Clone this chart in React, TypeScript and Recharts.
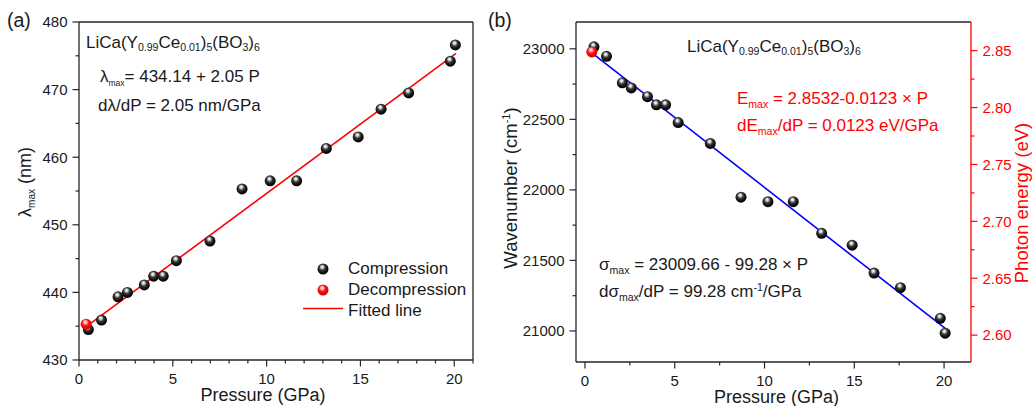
import React from 'react';
import { ScatterChart, Scatter, XAxis, YAxis, ReferenceLine } from 'recharts';

// pressure points (GPa), shared by both panels
const pressure = [0.5, 1.2, 2.08, 2.58, 3.48, 3.98, 4.49, 5.19, 6.98, 8.69, 10.19, 11.6, 13.18, 14.88, 16.1, 17.57, 19.79, 20.06];
// (a) emission maximum, nm
const lambdaMax = [434.5, 435.9, 439.35, 440.0, 441.1, 442.4, 442.4, 444.7, 447.6, 455.3, 456.5, 456.5, 461.3, 463.0, 467.1, 469.5, 474.2, 476.6];
// (b) wavenumber, cm-1
const wavenumber = [23014, 22947, 22759, 22723, 22661, 22603, 22603, 22477, 22329, 21948, 21916, 21916, 21692, 21608, 21410, 21307, 21090, 20984];

const decompPressure = [0.38];
const decompLambda = [435.3];
const decompWavenumber = [22978];

// fitted line end points
const fitPressure = [0.4, 20.1];
const fitLambda = [434.96, 475.35];
const fitWavenumber = [22970, 21014];

const xTicksA = [0, 1, 2, 3, 4, 5, 6, 7, 8, 9, 10, 11, 12, 13, 14, 15, 16, 17, 18, 19, 20, 21];
const yTicksA = [430, 435, 440, 445, 450, 455, 460, 465, 470, 475, 480];
const xTicksB = [0, 2.5, 5, 7.5, 10, 12.5, 15, 17.5, 20];
const yTicksB = [21000, 21250, 21500, 21750, 22000, 22250, 22500, 22750, 23000];
const eTicksB = [2.6, 2.625, 2.65, 2.675, 2.7, 2.725, 2.75, 2.775, 2.8, 2.825, 2.85];

const FONT = '"Liberation Sans", Arial, Helvetica, sans-serif';
const INK = '#1a1a1a';
const AXIS = '#262626';
const RED = '#ff0000';

function makeTick(side: 'bottom' | 'left' | 'right', isMajor: (v: number) => boolean, fmt: (v: number) => string, color: string) {
  return (props: any) => {
    const { x, y, payload } = props;
    const v = payload.value;
    const major = isMajor(v);
    const len = major ? 6.5 : 3.5;
    const txtColor = color === RED ? RED : INK;
    if (side === 'bottom') {
      return (
        <g>
          <line x1={x} x2={x} y1={y} y2={y + len} stroke={color} strokeWidth={1.2} />
          {major && (
            <text x={x} y={y + 24} textAnchor="middle" fontSize={15} fill={txtColor} fontFamily={FONT}>{fmt(v)}</text>
          )}
        </g>
      );
    }
    if (side === 'left') {
      return (
        <g>
          <line x1={x} x2={x - len} y1={y} y2={y} stroke={color} strokeWidth={1.2} />
          {major && (
            <text x={x - len - 5} y={y + 5.3} textAnchor="end" fontSize={15} fill={txtColor} fontFamily={FONT}>{fmt(v)}</text>
          )}
        </g>
      );
    }
    return (
      <g>
        <line x1={x} x2={x + len} y1={y} y2={y} stroke={color} strokeWidth={1.2} />
        {major && (
          <text x={x + len + 5} y={y + 5.3} textAnchor="start" fontSize={15} fill={txtColor} fontFamily={FONT}>{fmt(v)}</text>
        )}
      </g>
    );
  };
}

const BlackBall = (props: any) => <circle cx={props.cx} cy={props.cy} r={5.5} fill="url(#ballBlack)" />;
const RedBall = (props: any) => <circle cx={props.cx} cy={props.cy} r={5.5} fill="url(#ballRed)" />;
const NoDot = () => <g />;

const pressureLabel = (dx: number) => (props: any) => {
  const vb = props.viewBox || { x: 0, y: 0, width: 0, height: 0 };
  return (
    <text x={vb.x + vb.width / 2 + dx} y={vb.y + 41} textAnchor="middle" fontSize={18} fill={INK} fontFamily={FONT}>
      Pressure (GPa)
    </text>
  );
};

const sub = (fs: string, shift: number): React.CSSProperties => ({ fontSize: fs, verticalAlign: `${-shift}px`, lineHeight: 0 });

function Txt({ left, base, size = 17, color = INK, children }: { left: number; base: number; size?: number; color?: string; children: React.ReactNode }) {
  return (
    <div style={{ position: 'absolute', left, top: base - 0.8465 * size, fontSize: size, lineHeight: `${size}px`, whiteSpace: 'nowrap', color, fontFamily: FONT }}>
      {children}
    </div>
  );
}

const Formula = () => (
  <>
    LiCa(Y<span style={sub('0.62em', 3)}>0.99</span>Ce<span style={sub('0.62em', 3)}>0.01</span>)<span style={sub('0.62em', 3)}>5</span>(BO<span style={sub('0.62em', 3)}>3</span>)<span style={sub('0.62em', 3)}>6</span>
  </>
);

export default function App() {
  const compA = pressure.map((p, i) => ({ p, v: lambdaMax[i] }));
  const decA = decompPressure.map((p, i) => ({ p, v: decompLambda[i] }));
  const fitA = fitPressure.map((p, i) => ({ p, v: fitLambda[i] }));
  const compB = pressure.map((p, i) => ({ p, v: wavenumber[i] }));
  const decB = decompPressure.map((p, i) => ({ p, v: decompWavenumber[i] }));
  const fitB = fitPressure.map((p, i) => ({ p, v: fitWavenumber[i] }));

  const axisLine = { stroke: AXIS, strokeWidth: 1.3 };

  return (
    <div style={{ position: 'absolute', left: 0, top: 0, width: 1033, height: 406, background: '#fff', overflow: 'hidden', fontFamily: FONT }}>
      <svg width={0} height={0} style={{ position: 'absolute' }}>
        <defs>
          <radialGradient id="ballBlack" cx="0.45" cy="0.4" r="0.6" fx="0.42" fy="0.3">
            <stop offset="0" stopColor="#ffffff" />
            <stop offset="0.2" stopColor="#cfcfcf" />
            <stop offset="0.45" stopColor="#3a3a3a" />
            <stop offset="0.8" stopColor="#0a0a0a" />
            <stop offset="1" stopColor="#000000" />
          </radialGradient>
          <radialGradient id="ballRed" cx="0.45" cy="0.4" r="0.6" fx="0.42" fy="0.3">
            <stop offset="0" stopColor="#ffffff" />
            <stop offset="0.22" stopColor="#ffb3b3" />
            <stop offset="0.5" stopColor="#ff1010" />
            <stop offset="1" stopColor="#d00000" />
          </radialGradient>
        </defs>
      </svg>

      {/* panel (a) */}
      <div style={{ position: 'absolute', left: 0, top: 0 }}>
        <ScatterChart width={490} height={406} margin={{ top: 22, right: 17, bottom: 0, left: 0 }}>
          <XAxis
            type="number"
            dataKey="p"
            domain={[0, 21]}
            allowDataOverflow
            ticks={xTicksA}
            interval={0}
            height={46}
            tickSize={0}
            tickMargin={0}
            axisLine={axisLine}
            tick={makeTick('bottom', (v) => v % 5 === 0, (v) => String(v), AXIS)}
            label={pressureLabel(-13)}
          />
          <YAxis
            type="number"
            dataKey="v"
            domain={[430, 480]}
            allowDataOverflow
            ticks={yTicksA}
            interval={0}
            width={79}
            tickSize={0}
            tickMargin={0}
            axisLine={axisLine}
            tick={makeTick('left', (v) => v % 10 === 0, (v) => String(v), AXIS)}
            label={() => (
              <text transform="rotate(-90 31 182)" x={31} y={182} textAnchor="middle" fontSize={18} fill={INK} fontFamily={FONT}>
                λ<tspan fontSize={10} dy={4}>max</tspan>
                <tspan dy={-4}> (nm)</tspan>
              </text>
            )}
          />
          <ReferenceLine y={480} stroke={AXIS} strokeWidth={1.3} />
          <ReferenceLine x={21} stroke={AXIS} strokeWidth={1.3} />
          <Scatter data={fitA} line={{ stroke: RED, strokeWidth: 1.6 }} shape={NoDot} isAnimationActive={false} />
          <Scatter data={compA} shape={BlackBall} isAnimationActive={false} />
          <Scatter data={decA} shape={RedBall} isAnimationActive={false} />
        </ScatterChart>
      </div>

      {/* panel (b) */}
      <div style={{ position: 'absolute', left: 490, top: 0 }}>
        <ScatterChart width={543} height={406} margin={{ top: 22, right: 0, bottom: 0, left: 0 }}>
          <XAxis
            type="number"
            dataKey="p"
            domain={[-0.5, 21.5]}
            allowDataOverflow
            ticks={xTicksB}
            interval={0}
            height={44}
            tickSize={0}
            tickMargin={0}
            axisLine={axisLine}
            tick={makeTick('bottom', (v) => v % 5 === 0, (v) => String(v), AXIS)}
            label={pressureLabel(3)}
          />
          <YAxis
            yAxisId="left"
            type="number"
            dataKey="v"
            domain={[20780, 23190]}
            allowDataOverflow
            ticks={yTicksB}
            interval={0}
            width={86}
            tickSize={0}
            tickMargin={0}
            axisLine={axisLine}
            tick={makeTick('left', (v) => v % 500 === 0, (v) => String(v), AXIS)}
            label={() => (
              <text transform="rotate(-90 27 188)" x={27} y={188} textAnchor="middle" fontSize={18.5} fill={INK} fontFamily={FONT}>
                Wavenumber (cm<tspan fontSize={11} dy={-7}>-1</tspan>
                <tspan dy={7}>)</tspan>
              </text>
            )}
          />
          <YAxis
            yAxisId="right"
            orientation="right"
            type="number"
            domain={[2.57639, 2.87519]}
            allowDataOverflow
            ticks={eTicksB}
            interval={0}
            width={62}
            tickSize={0}
            tickMargin={0}
            axisLine={{ stroke: RED, strokeWidth: 1.3 }}
            tick={makeTick('right', (v) => Math.round(v * 1000) % 50 === 0, (v) => v.toFixed(2), RED)}
            label={() => (
              <text transform="rotate(-90 538 203)" x={538} y={203} textAnchor="middle" fontSize={18.5} fill={RED} fontFamily={FONT}>
                Photon energy (eV)
              </text>
            )}
          />
          <ReferenceLine yAxisId="left" y={23190} stroke={AXIS} strokeWidth={1.3} />
          <Scatter yAxisId="left" data={fitB} line={{ stroke: '#0000ff', strokeWidth: 1.6 }} shape={NoDot} isAnimationActive={false} />
          <Scatter yAxisId="left" data={compB} shape={BlackBall} isAnimationActive={false} />
          <Scatter yAxisId="left" data={decB} shape={RedBall} isAnimationActive={false} />
        </ScatterChart>
      </div>

      {/* panel labels */}
      <Txt left={7} base={28} size={19.5}>(a)</Txt>
      <Txt left={488} base={28} size={19.5}>(b)</Txt>

      {/* annotations (a) */}
      <Txt left={86} base={48}><Formula /></Txt>
      <Txt left={100} base={82}>
        λ<span style={sub('0.5em', 4)}>max</span>= 434.14 + 2.05 P
      </Txt>
      <Txt left={98} base={111}>dλ/dP = 2.05 nm/GPa</Txt>

      {/* legend (a) */}
      <div style={{ position: 'absolute', left: 300, top: 256, fontFamily: FONT, fontSize: 17, color: INK }}>
        {[
          { label: 'Compression', kind: 'black' },
          { label: 'Decompression', kind: 'red' },
          { label: 'Fitted line', kind: 'line' },
        ].map((it, i) => (
          <div key={it.label} style={{ position: 'absolute', left: 0, top: i * 21, height: 21, whiteSpace: 'nowrap', display: 'flex', alignItems: 'center' }}>
            <svg width={46} height={21}>
              {it.kind === 'line' ? (
                <line x1={3} x2={43} y1={10.5} y2={10.5} stroke={RED} strokeWidth={1.6} />
              ) : (
                <circle cx={23} cy={13} r={5.5} fill={it.kind === 'black' ? 'url(#ballBlack)' : 'url(#ballRed)'} />
              )}
            </svg>
            <span style={{ marginLeft: 2, lineHeight: '21px', position: 'relative', top: 2 }}>{it.label}</span>
          </div>
        ))}
      </div>

      {/* annotations (b) */}
      <Txt left={687} base={52}><Formula /></Txt>
      <Txt left={737} base={104} color={RED}>
        E<span style={sub('0.62em', 4)}>max</span> = 2.8532-0.0123 × P
      </Txt>
      <Txt left={737} base={131} color={RED}>
        dE<span style={sub('0.62em', 4)}>max</span>/dP = 0.0123 eV/GPa
      </Txt>
      <Txt left={599} base={270}>
        σ<span style={sub('0.62em', 4)}>max</span> = 23009.66 - 99.28 × P
      </Txt>
      <Txt left={599} base={297}>
        dσ<span style={sub('0.62em', 4)}>max</span>/dP = 99.28 cm<span style={{ fontSize: '0.62em', verticalAlign: '6px', lineHeight: 0 }}>-1</span>/GPa
      </Txt>
    </div>
  );
}
